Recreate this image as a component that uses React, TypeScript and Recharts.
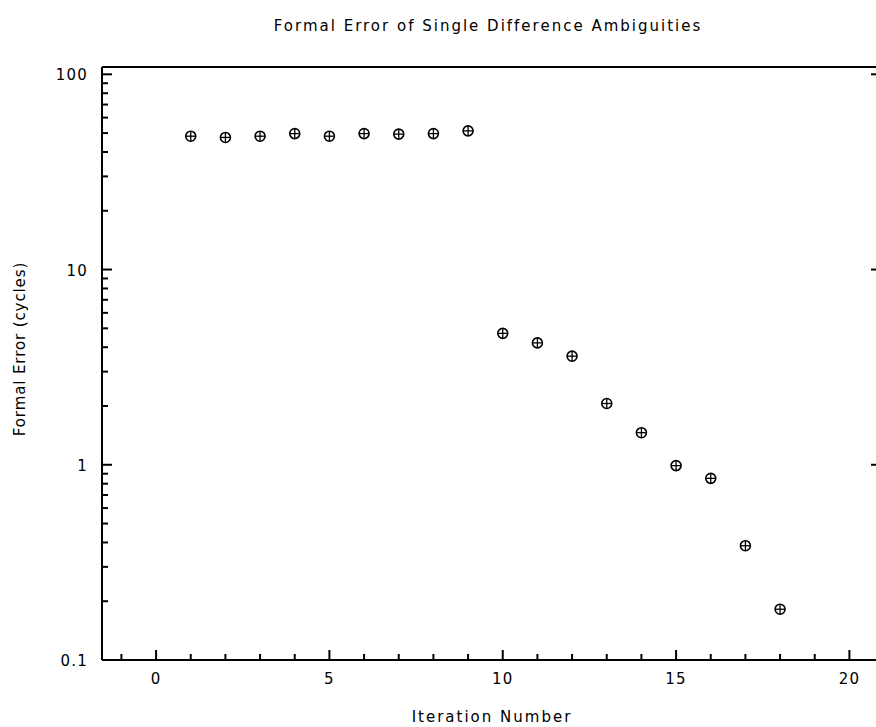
import React from 'react';
import { ScatterChart, Scatter, XAxis, YAxis } from 'recharts';

const iterations = [1, 2, 3, 4, 5, 6, 7, 8, 9, 10, 11, 12, 13, 14, 15, 16, 17, 18];
const formalErrors = [48.2, 47.5, 48.2, 49.7, 48.2, 49.7, 49.4, 49.7, 51.3, 4.71, 4.21, 3.6, 2.06, 1.46, 0.99, 0.852, 0.385, 0.182];

const xMajorTicks = [0, 5, 10, 15, 20];
const xTicks = [-1, 0, 1, 2, 3, 4, 5, 6, 7, 8, 9, 10, 11, 12, 13, 14, 15, 16, 17, 18, 19, 20];
const yMajorTicks = [0.1, 1, 10, 100];
const yTicks = [
  0.1, 0.2, 0.3, 0.4, 0.5, 0.6, 0.7, 0.8, 0.9,
  1, 2, 3, 4, 5, 6, 7, 8, 9,
  10, 20, 30, 40, 50, 60, 70, 80, 90,
  100,
];

const data = iterations.map((it, i) => ({ x: it, y: formalErrors[i] }));

const FONT = '"DejaVu Sans", sans-serif';
const MAJOR = 10;
const MINOR = 6;

const isMajorY = (v: number) => yMajorTicks.some((m) => Math.abs(m - v) < 1e-9);
const isMajorX = (v: number) => xMajorTicks.includes(v);

const LeftTick = (props: any) => {
  const { x, y, payload } = props;
  const major = isMajorY(payload.value);
  return (
    <g>
      <line x1={x} x2={x + (major ? MAJOR : MINOR)} y1={y} y2={y} stroke="#000" strokeWidth={2} />
      {major && (
        <text x={x - 14} y={y + 1} textAnchor="end" dominantBaseline="central" fontFamily={FONT} fontSize={15} letterSpacing={1.2} fill="#000">
          {String(payload.value)}
        </text>
      )}
    </g>
  );
};

const RightTick = (props: any) => {
  const { x, y, payload } = props;
  const major = isMajorY(payload.value);
  return <line x1={x} x2={x - (major ? 11 : 5)} y1={y} y2={y} stroke="#000" strokeWidth={2} />;
};

const BottomTick = (props: any) => {
  const { x, y, payload } = props;
  const major = isMajorX(payload.value);
  return (
    <g>
      <line x1={x} x2={x} y1={y} y2={y - (major ? MAJOR : MINOR)} stroke="#000" strokeWidth={2} />
      {major && (
        <text x={x} y={y + 19} textAnchor="middle" dominantBaseline="central" fontFamily={FONT} fontSize={15} letterSpacing={1.2} fill="#000">
          {String(payload.value)}
        </text>
      )}
    </g>
  );
};

const TopTick = (props: any) => {
  const { x, y, payload } = props;
  const major = isMajorX(payload.value);
  return <line x1={x} x2={x} y1={y} y2={y + (major ? MAJOR : MINOR)} stroke="#000" strokeWidth={2} />;
};

const Marker = (props: any) => {
  const { cx, cy } = props;
  const r = 5;
  return (
    <g>
      <circle cx={cx} cy={cy} r={r} fill="#fff" stroke="#000" strokeWidth={1.6} />
      <line x1={cx - r} x2={cx + r} y1={cy} y2={cy} stroke="#000" strokeWidth={1.3} />
      <line x1={cx} x2={cx} y1={cy - r} y2={cy + r} stroke="#000" strokeWidth={1.3} />
    </g>
  );
};

export default function App() {
  return (
    <div style={{ position: 'absolute', left: 0, top: 0, width: 876, height: 727, overflow: 'hidden', background: '#fff' }}>
      <ScatterChart width={890} height={727} margin={{ top: 0, right: 0, bottom: 0, left: 0 }}>
        <XAxis
          dataKey="x"
          type="number"
          domain={[-1.56, 20.94]}
          allowDataOverflow
          ticks={xTicks}
          interval={0}
          height={67}
          tickSize={0}
          tickMargin={0}
          tickLine={false}
          axisLine={{ stroke: '#000', strokeWidth: 2 }}
          tick={<BottomTick />}
        />
        <XAxis
          xAxisId="top"
          orientation="top"
          type="number"
          domain={[-1.56, 20.94]}
          allowDataOverflow
          ticks={xTicks}
          interval={0}
          height={67}
          tickSize={0}
          tickMargin={0}
          tickLine={false}
          axisLine={{ stroke: '#000', strokeWidth: 2 }}
          tick={<TopTick />}
        />
        <YAxis
          dataKey="y"
          type="number"
          scale="log"
          domain={[0.1, 109]}
          allowDataOverflow
          ticks={yTicks}
          interval={0}
          width={102}
          tickSize={0}
          tickMargin={0}
          tickLine={false}
          axisLine={{ stroke: '#000', strokeWidth: 2 }}
          tick={<LeftTick />}
        />
        <YAxis
          yAxisId="right"
          orientation="right"
          type="number"
          scale="log"
          domain={[0.1, 109]}
          allowDataOverflow
          ticks={yTicks}
          interval={0}
          width={8}
          tickSize={0}
          tickMargin={0}
          tickLine={false}
          axisLine={{ stroke: '#000', strokeWidth: 2 }}
          tick={<RightTick />}
        />
        <Scatter data={data} isAnimationActive={false} shape={<Marker />} />
      </ScatterChart>
      <svg width={876} height={727} style={{ position: 'absolute', left: 0, top: 0, pointerEvents: 'none' }}>
        <text x={488} y={26} textAnchor="middle" dominantBaseline="central" fontFamily={FONT} fontSize={15} letterSpacing={2} fill="#000">
          Formal Error of Single Difference Ambiguities
        </text>
        <text x={492} y={717} textAnchor="middle" dominantBaseline="central" fontFamily={FONT} fontSize={15} letterSpacing={2} fill="#000">
          Iteration Number
        </text>
        <text
          x={20}
          y={349}
          textAnchor="middle"
          dominantBaseline="central"
          fontFamily={FONT}
          fontSize={15}
          letterSpacing={0.9}
          fill="#000"
          transform="rotate(-90 20 349)"
        >
          Formal Error (cycles)
        </text>
      </svg>
    </div>
  );
}
